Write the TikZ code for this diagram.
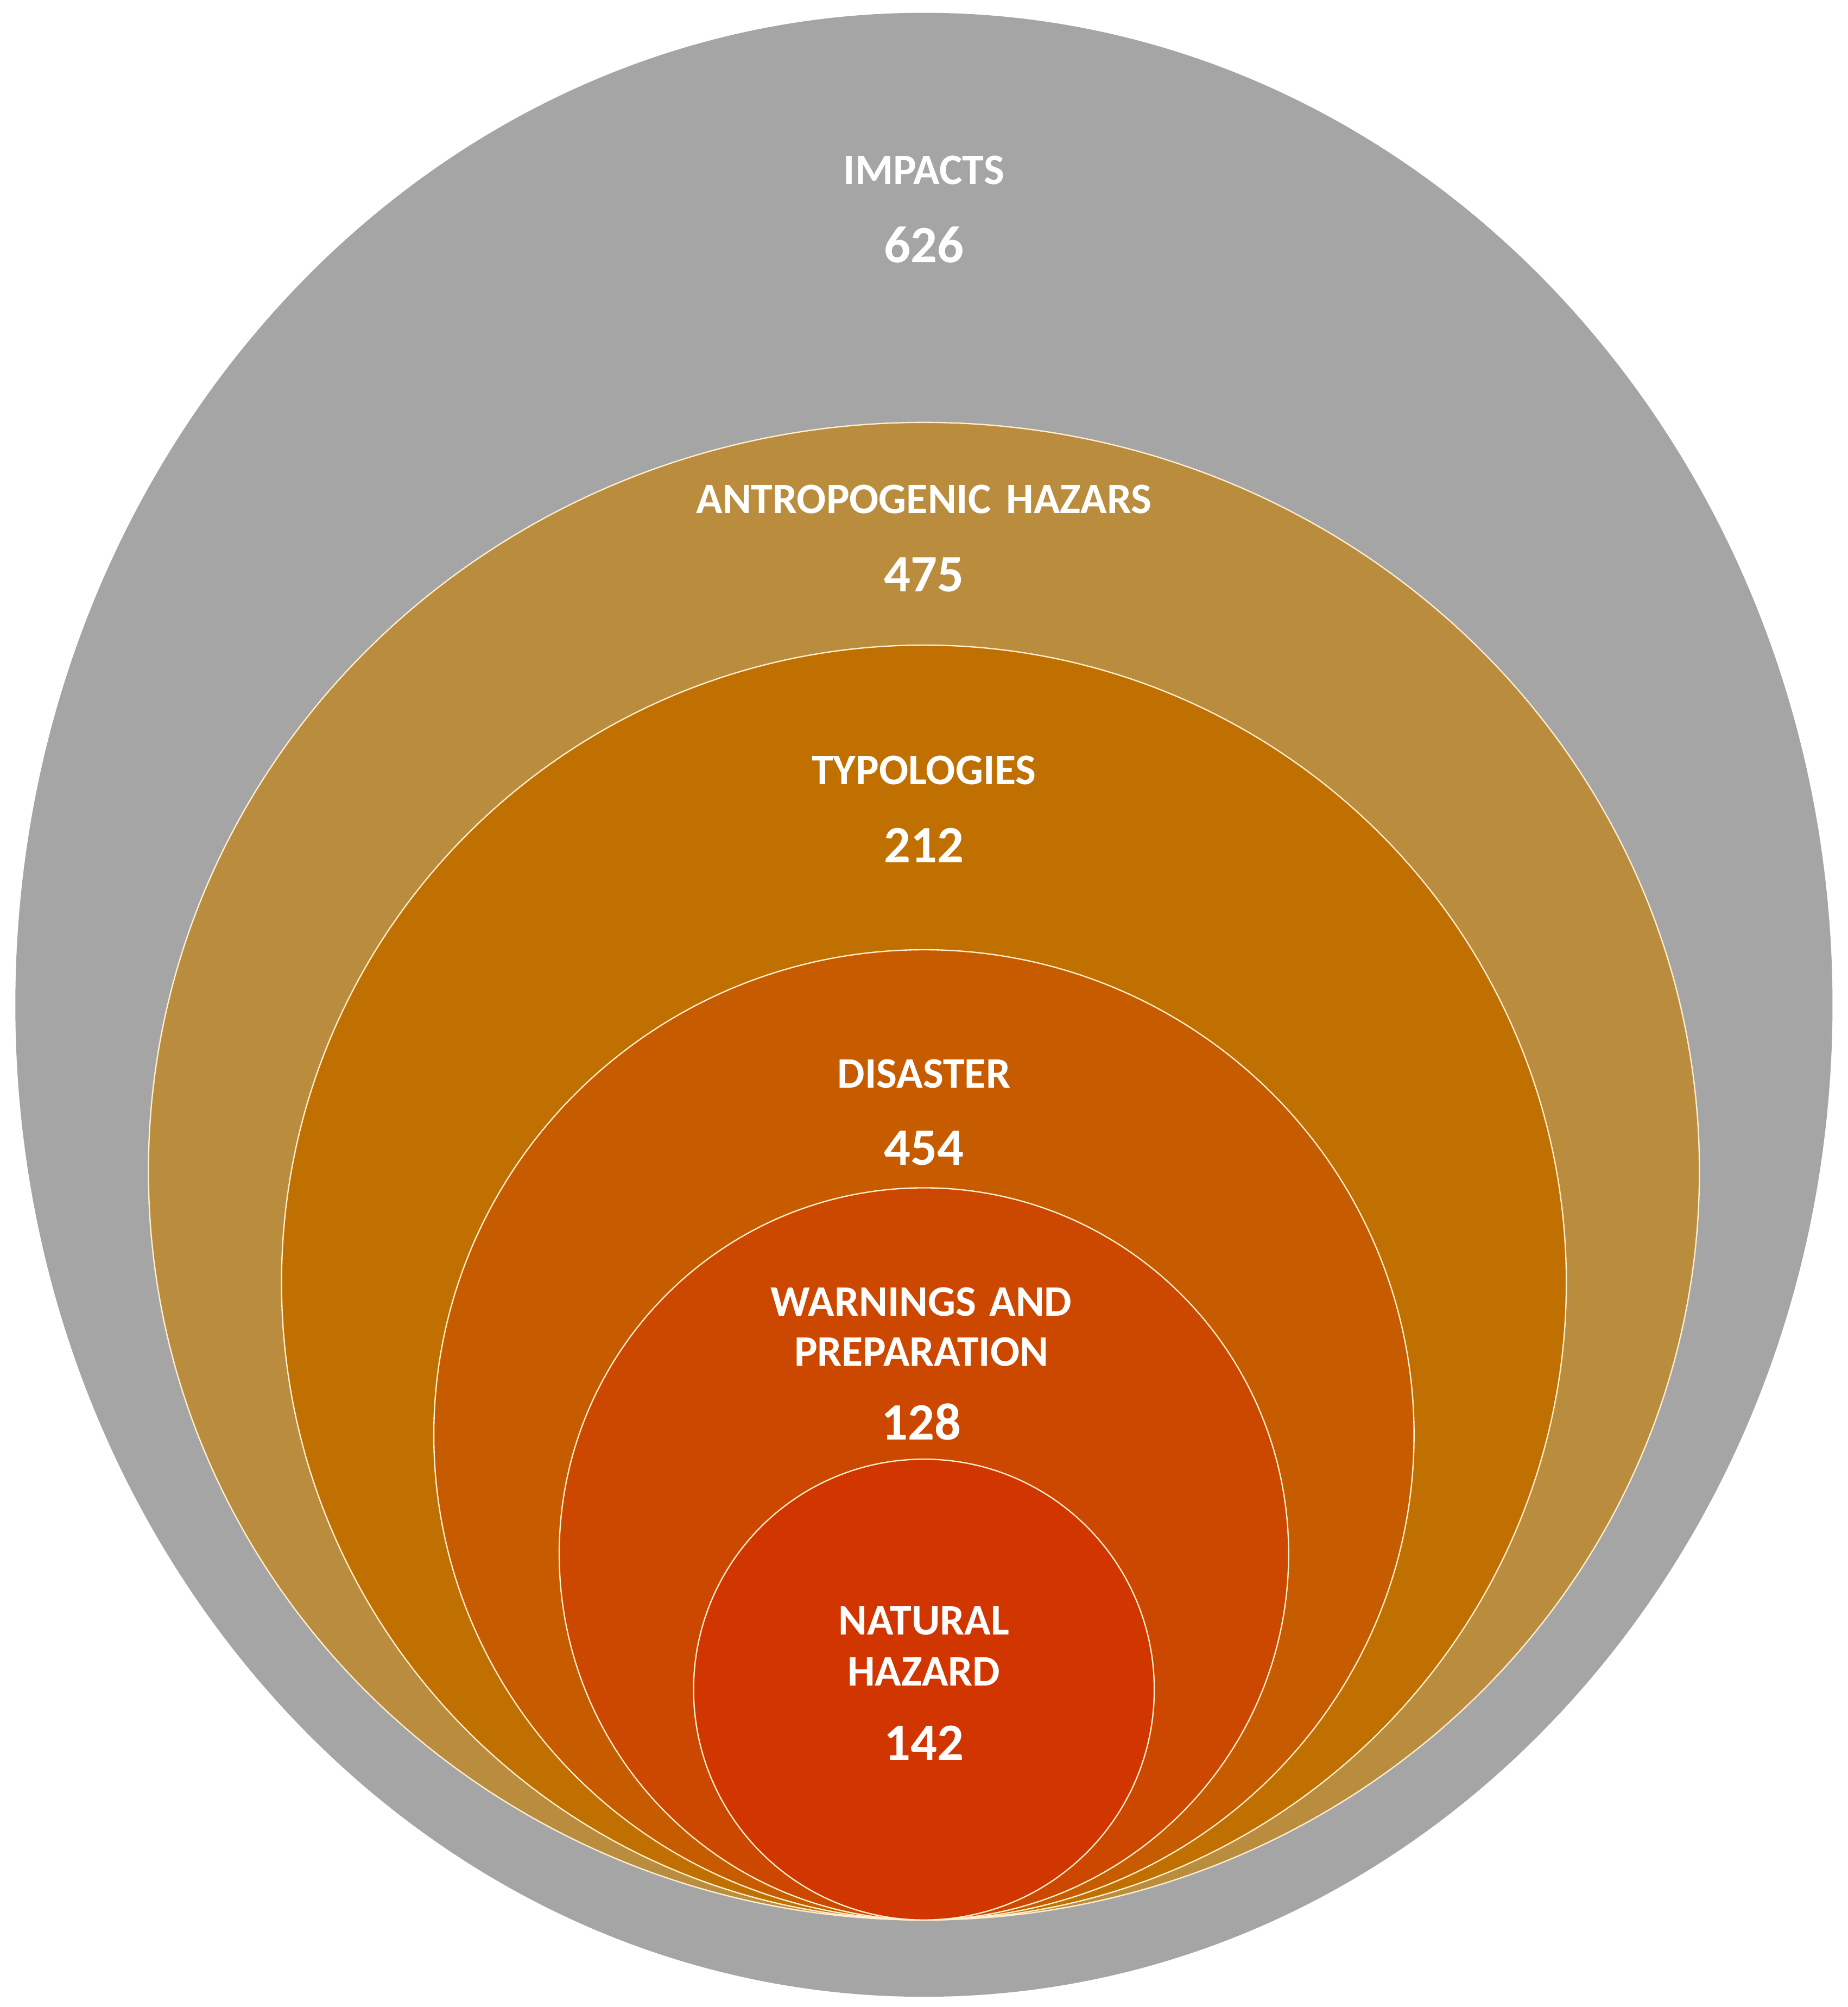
\documentclass[tikz,border=0pt]{standalone}
\usepackage{fontspec}
\setmainfont{Carlito}
\definecolor{cgray}{HTML}{A5A5A5}
\definecolor{ctan}{HTML}{BA8C3E}
\definecolor{ctypo}{HTML}{C07000}
\definecolor{cdis}{HTML}{C65B00}
\definecolor{cwarn}{HTML}{CC4700}
\definecolor{cnat}{HTML}{D13600}
\definecolor{crim}{HTML}{FFEFCF}
\tikzset{
  ring/.style={draw=crim, line width=0.5pt},
  lab/.style={text=white, font=\bfseries\fontsize{17}{20.5}\selectfont, anchor=base, inner sep=0pt, align=center},
  num/.style={text=white, font=\bfseries\fontsize{20.5}{24}\selectfont, anchor=base, inner sep=0pt}
}
\begin{document}
\begin{tikzpicture}[x=0.5pt,y=-0.5pt]
\useasboundingbox (0,0) rectangle (1444,1568);
% ellipses
\fill[cgray] (722,785) ellipse [x radius=710, y radius=775];
\filldraw[ring, fill=ctan] (722,915) ellipse [x radius=606, y radius=585];
\filldraw[ring, fill=ctypo] (722,1002) ellipse [x radius=502, y radius=498];
\filldraw[ring, fill=cdis] (722,1121) ellipse [x radius=383, y radius=379];
\filldraw[ring, fill=cwarn] (722,1214) ellipse [x radius=285, y radius=286];
\filldraw[ring, fill=cnat] (722,1320) ellipse [x radius=180, y radius=180];
% labels
\node[lab] (impL) at (722,144) {IMPACTS};
\node[num] (impN) at (722,205) {626};
\node[lab] (antL) at (722,401) {ANTROPOGENIC\hspace{0.35em}HAZARS};
\node[num] (antN) at (722,462) {475};
\node[lab] (typL) at (722,613) {TYPOLOGIES};
\node[num] (typN) at (722,674) {212};
\node[lab] (disL) at (722,850) {DISASTER};
\node[num] (disN) at (722,910) {454};
\node[lab] (warL1) at (720,1028) {WARNINGS\hspace{0.3em}AND};
\node[lab] (warL2) at (720,1067) {PREPARATION};
\node[num] (warN) at (720,1125) {128};
\node[lab] (natL1) at (722,1277) {NATURAL};
\node[lab] (natL2) at (722,1317) {HAZARD};
\node[num] (natN) at (722,1375) {142};
\end{tikzpicture}
\end{document}
